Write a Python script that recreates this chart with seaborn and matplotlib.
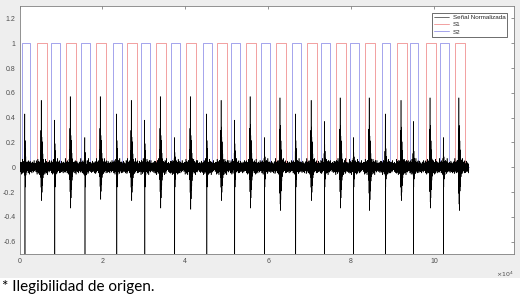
"""
PCG normalizado con las marcas de segmentacion S1 / S2 (estilo MATLAB).
"""
import numpy as np
import pandas as pd
import matplotlib
matplotlib.use('Agg')
import matplotlib.pyplot as plt
import seaborn as sns
from matplotlib.patches import Rectangle

# ---- datos (eje x en muestras) ----
N_SAMPLES = 108400
STEP = 40  # resolucion con la que se dibuja la senal

# inicio de cada ventana S1 (rojo) y S2 (azul)
S1_ONSET = [4300, 11300, 18550, 26000, 33000, 40250, 47700, 54700,
            61900, 69400, 76400, 83400, 91100, 98100, 105050]
S2_ONSET = [500, 7700, 14950, 22650, 29400, 36600, 44350, 51100,
            58300, 65800, 72750, 79750, 87450, 94200, 101450]
S1_WIDTH = 2400
S2_WIDTH = 2050

# amplitudes de los picos de la senal en cada evento
S1_PEAK = [0.54, 0.57, 0.57, 0.54, 0.57, 0.57, 0.54, 0.57,
           0.56, 0.54, 0.56, 0.56, 0.54, 0.56, 0.56]
S1_DIP = [-0.27, -0.33, -0.26, -0.27, -0.33, -0.34, -0.27, -0.33,
          -0.35, -0.27, -0.33, -0.35, -0.27, -0.33, -0.35]
S2_PEAK = [0.43, 0.38, 0.24, 0.43, 0.38, 0.24, 0.43, 0.38,
           0.24, 0.43, 0.37, 0.24, 0.43, 0.37, 0.24]
S2_DIP = -0.16
S2_SPIKE = -0.95  # pico negativo que sale por debajo del eje

# forma aproximada de cada sonido (+ escala con el pico, - con el valle)
S1_SHAPE = [0.10, -0.12, 0.25, -0.30, 0.55, -0.60, 1.00, -0.85, 0.60, -1.00,
            0.45, -0.75, 0.38, -0.55, 0.25, -0.45, 0.20, -0.32, 0.12, -0.22,
            0.10, -0.15, 0.06, -0.10]
S2_SHAPE = [0.08, -0.15, 0.30, -0.40, 1.00, 0.0, 0.50, -1.00, 0.35, -0.60,
            0.20, -0.40, 0.10, -0.20]
S2_SPIKE_POS = 5

# ruido de fondo (valores de la banda alrededor de 0)
NOISE = [0.012, -0.021, 0.034, -0.008, 0.027, -0.036, 0.005, 0.041, -0.019,
         -0.030, 0.022, 0.009, -0.044, 0.031, -0.012, 0.018, -0.027, 0.050,
         -0.006, -0.038, 0.024, 0.003, -0.015, 0.037, -0.033, 0.014, -0.002,
         0.029, -0.047, 0.020, 0.008, -0.024, 0.043, -0.011, -0.029, 0.016,
         0.035, -0.040, 0.001, 0.026, -0.018, 0.055, -0.031, 0.010, -0.022,
         0.032, -0.009]

YTICKS = [-0.6, -0.4, -0.2, 0, 0.2, 0.4, 0.6, 0.8, 1, 1.2]
XTICKS = [0, 20000, 40000, 60000, 80000, 100000]
LABELS = ['Señal Normalizada', 'S1', 'S2']


def build_signal():
    t = np.arange(0, N_SAMPLES + 1, STEP)
    sig = np.resize(np.array(NOISE), t.size)
    for on, pk, dp in zip(S1_ONSET, S1_PEAK, S1_DIP):
        i0 = (on + 720) // STEP
        sig[i0 - 25:i0 + 45] *= 1.3
        for k, v in enumerate(S1_SHAPE):
            sig[i0 + k] = v * pk if v > 0 else v * abs(dp)
    for on, pk in zip(S2_ONSET, S2_PEAK):
        i0 = (on + 650) // STEP
        sig[i0 - 20:i0 + 35] *= 1.3
        for k, v in enumerate(S2_SHAPE):
            sig[i0 + k] = v * pk if v > 0 else v * abs(S2_DIP)
        sig[i0 + S2_SPIKE_POS] = S2_SPIKE
    return pd.DataFrame({'x': t, 'y': sig})


def build_pulses(onsets, width):
    xs, ys = [0], [0]
    for s in onsets:
        xs += [s, s, s + width, s + width]
        ys += [0, 1, 1, 0]
    xs.append(N_SAMPLES)
    ys.append(0)
    return pd.DataFrame({'x': xs, 'y': ys})


def main():
    sns.set_style('white')
    plt.rcParams['font.family'] = ['Liberation Sans', 'DejaVu Sans']
    plt.rcParams['axes.unicode_minus'] = False
    plt.rcParams['path.simplify'] = False

    fig = plt.figure(figsize=(5.2, 3.05), dpi=100)
    fig.patch.set_facecolor('white')
    # fondo gris de la ventana de MATLAB
    fig.patches.append(Rectangle((0, 0.0885), 1, 0.9115, transform=fig.transFigure,
                                 facecolor='#eeeeee', edgecolor='none', zorder=-1))
    ax = fig.add_axes([0.0375, 0.1672, 0.951, 0.813])
    ax.set_facecolor('white')

    sig = build_signal()
    s1 = build_pulses(S1_ONSET, S1_WIDTH)
    s2 = build_pulses(S2_ONSET, S2_WIDTH)

    sns.lineplot(data=sig, x='x', y='y', ax=ax, color='black', lw=0.4,
                 estimator=None, sort=False, label=LABELS[0], zorder=3)
    sns.lineplot(data=s1, x='x', y='y', ax=ax, color='#f2a0a0', lw=0.7,
                 estimator=None, sort=False, label=LABELS[1], zorder=2)
    sns.lineplot(data=s2, x='x', y='y', ax=ax, color='#a4a4ec', lw=0.7,
                 estimator=None, sort=False, label=LABELS[2], zorder=2)

    ax.set_xlim(0, 119300)
    ax.set_ylim(-0.7, 1.3)
    ax.set_xticks(XTICKS)
    ax.set_xticklabels([f'{v / 1e4:g}' for v in XTICKS])
    ax.set_yticks(YTICKS)
    ax.set_yticklabels([f'{v:g}' for v in YTICKS])
    ax.set_xlabel('')
    ax.set_ylabel('')
    ax.tick_params(direction='in', length=2.5, width=0.5, top=True, right=True,
                   labelsize=5, color='#666666', labelcolor='#4d4d4d', pad=3)
    for sp in ax.spines.values():
        sp.set_color('#808080')
        sp.set_linewidth(0.6)
    ax.text(1.0, -0.065, r'$\times10^{4}$', transform=ax.transAxes, ha='right',
            va='top', fontsize=4.5, color='#4d4d4d')

    leg = ax.legend(loc='upper right', fontsize=4.5, fancybox=False, framealpha=1,
                    edgecolor='#333333', borderaxespad=1.1, handlelength=2.4,
                    labelspacing=0.3, borderpad=0.3, handletextpad=0.6)
    leg.get_frame().set_linewidth(0.5)

    fig.text(0.004, 0.046, '* Ilegibilidad de origen.', fontsize=11,
             family=['Lato', 'DejaVu Sans'], color='black', va='baseline')

    fig.savefig('out.png', dpi=100)


if __name__ == "__main__":
    main()
